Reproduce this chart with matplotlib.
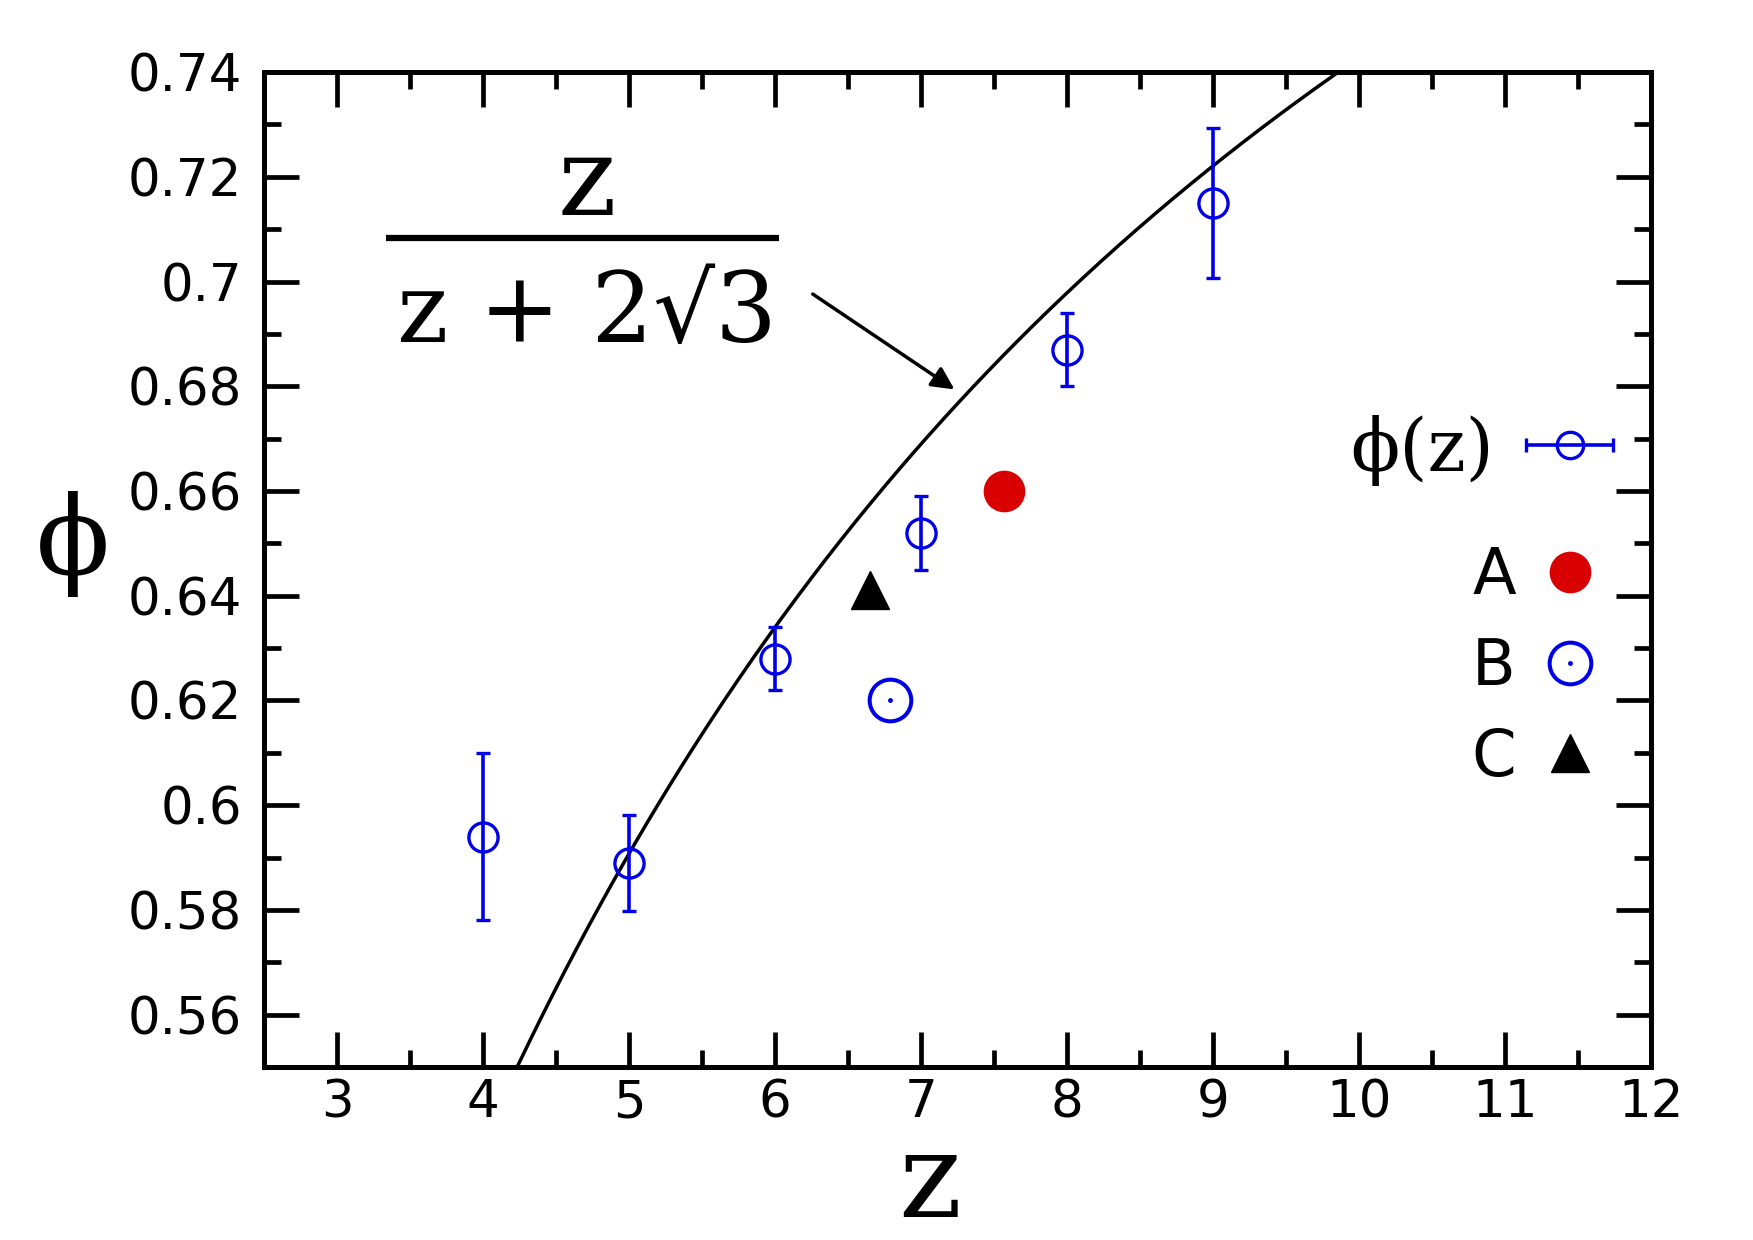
import numpy as np
import matplotlib
matplotlib.use("Agg")
import matplotlib.pyplot as plt
from matplotlib.legend_handler import HandlerErrorbar, HandlerTuple
from matplotlib.ticker import MultipleLocator

plt.rcParams['mathtext.fontset'] = 'dejavuserif'

# phi(z) with error bars
z_vals = [4, 5, 6, 7, 8, 9]
phi_vals = [0.594, 0.589, 0.628, 0.652, 0.687, 0.715]
phi_err = [0.016, 0.0092, 0.006, 0.007, 0.007, 0.0143]

# single points A, B, C
a_point = (7.57, 0.660)
b_point = (6.79, 0.620)
c_point = (6.65, 0.641)

# theory curve z / (z + 2 sqrt 3)
z_curve = np.linspace(4.0, 10.0, 300)
phi_curve = z_curve / (z_curve + 2 * np.sqrt(3))

blue = '#0000e6'
red = '#d80000'

fig = plt.figure(figsize=(17.53, 12.40), dpi=100)
ax = fig.add_axes([0.1506, 0.1395, 0.7912, 0.8024])

ax.plot(z_curve, phi_curve, color='black', lw=2.5, zorder=2)

ax.errorbar(z_vals, phi_vals, yerr=phi_err, fmt='o', color=blue, mfc='none',
            mec=blue, ms=21, mew=2.4, elinewidth=2.6, capsize=5, capthick=2.6, zorder=3)
# proxy with horizontal bar for the legend
eb_proxy = ax.errorbar([np.nan], [np.nan], xerr=[np.nan], fmt='o', color=blue, mfc='none',
                       mec=blue, ms=19, mew=2.4, elinewidth=2.6, capsize=5, capthick=2.6)

a_line, = ax.plot([a_point[0]], [a_point[1]], 'o', color=red, ms=29, mec=red, zorder=4)
b_ring, = ax.plot([b_point[0]], [b_point[1]], 'o', mfc='none', mec=blue, ms=30, mew=2.9, zorder=4)
b_dot, = ax.plot([b_point[0]], [b_point[1]], 'o', color=blue, ms=2.5, zorder=5)
c_line, = ax.plot([c_point[0]], [c_point[1]], '^', color='black', ms=27, zorder=4)

ax.set_xlim(2.5, 12)
ax.set_ylim(0.55, 0.74)
ax.xaxis.set_minor_locator(MultipleLocator(0.5))
ax.yaxis.set_minor_locator(MultipleLocator(0.01))
ax.set_xticks(range(3, 13))
ax.set_xticklabels([str(v) for v in range(3, 13)])
yt = np.arange(0.56, 0.741, 0.02)
ax.set_yticks(yt)
ax.set_yticklabels([('%.2f' % v).rstrip('0') for v in yt])

ax.tick_params(which='both', direction='in', top=True, right=True, labelsize=37)
ax.tick_params(which='major', length=25, width=3.4)
ax.tick_params(which='minor', length=12, width=3.4)
ax.tick_params(axis='x', pad=8)
ax.tick_params(axis='y', pad=16)
for s in ax.spines.values():
    s.set_linewidth(3.6)

fig.text(928 / 1753, 1 - 1184 / 1240, r'$\mathrm{z}$', fontsize=86,
         ha='center', va='center')
fig.text(73 / 1753, 1 - 544 / 1240, '\u03d5', family='DejaVu Serif', fontsize=78,
         ha='center', va='center')

# formula label
ax.text(4.70, 0.7186, r'$\mathrm{z}$', fontsize=80, ha='center', va='center')
ax.plot([3.336, 6.027], [0.7083, 0.7083], color='black', lw=4.5, solid_capstyle='butt',
        clip_on=False)
ax.text(4.71, 0.6936, 'z + 2\u221a3', family='DejaVu Serif', fontsize=70,
        ha='center', va='center')
ax.annotate('', xy=(7.245, 0.6791), xytext=(6.243, 0.6979),
            arrowprops=dict(arrowstyle='-|>', color='black', lw=2.5, mutation_scale=34))

leg1 = ax.legend([eb_proxy], ['\u03d5(z)'],
                 handler_map={type(eb_proxy): HandlerErrorbar(xerr_size=0.6)},
                 loc='center right', bbox_to_anchor=(0.9726, 0.620), frameon=False,
                 borderaxespad=0, borderpad=0, markerfirst=False, numpoints=1,
                 prop={'family': 'DejaVu Serif', 'size': 52},
                 handlelength=1.2, handletextpad=0.45)
ax.add_artist(leg1)
leg2 = ax.legend([a_line, (b_ring, b_dot), c_line], ['A', 'B', 'C'],
                 handler_map={tuple: HandlerTuple(ndivide=1)},
                 loc='center right', bbox_to_anchor=(0.9647, 0.402), frameon=False,
                 borderaxespad=0, borderpad=0, markerfirst=False, numpoints=1,
                 fontsize=46, handlelength=1.0, handletextpad=0.35, labelspacing=0.45)

fig.savefig('out.png', dpi=100)
